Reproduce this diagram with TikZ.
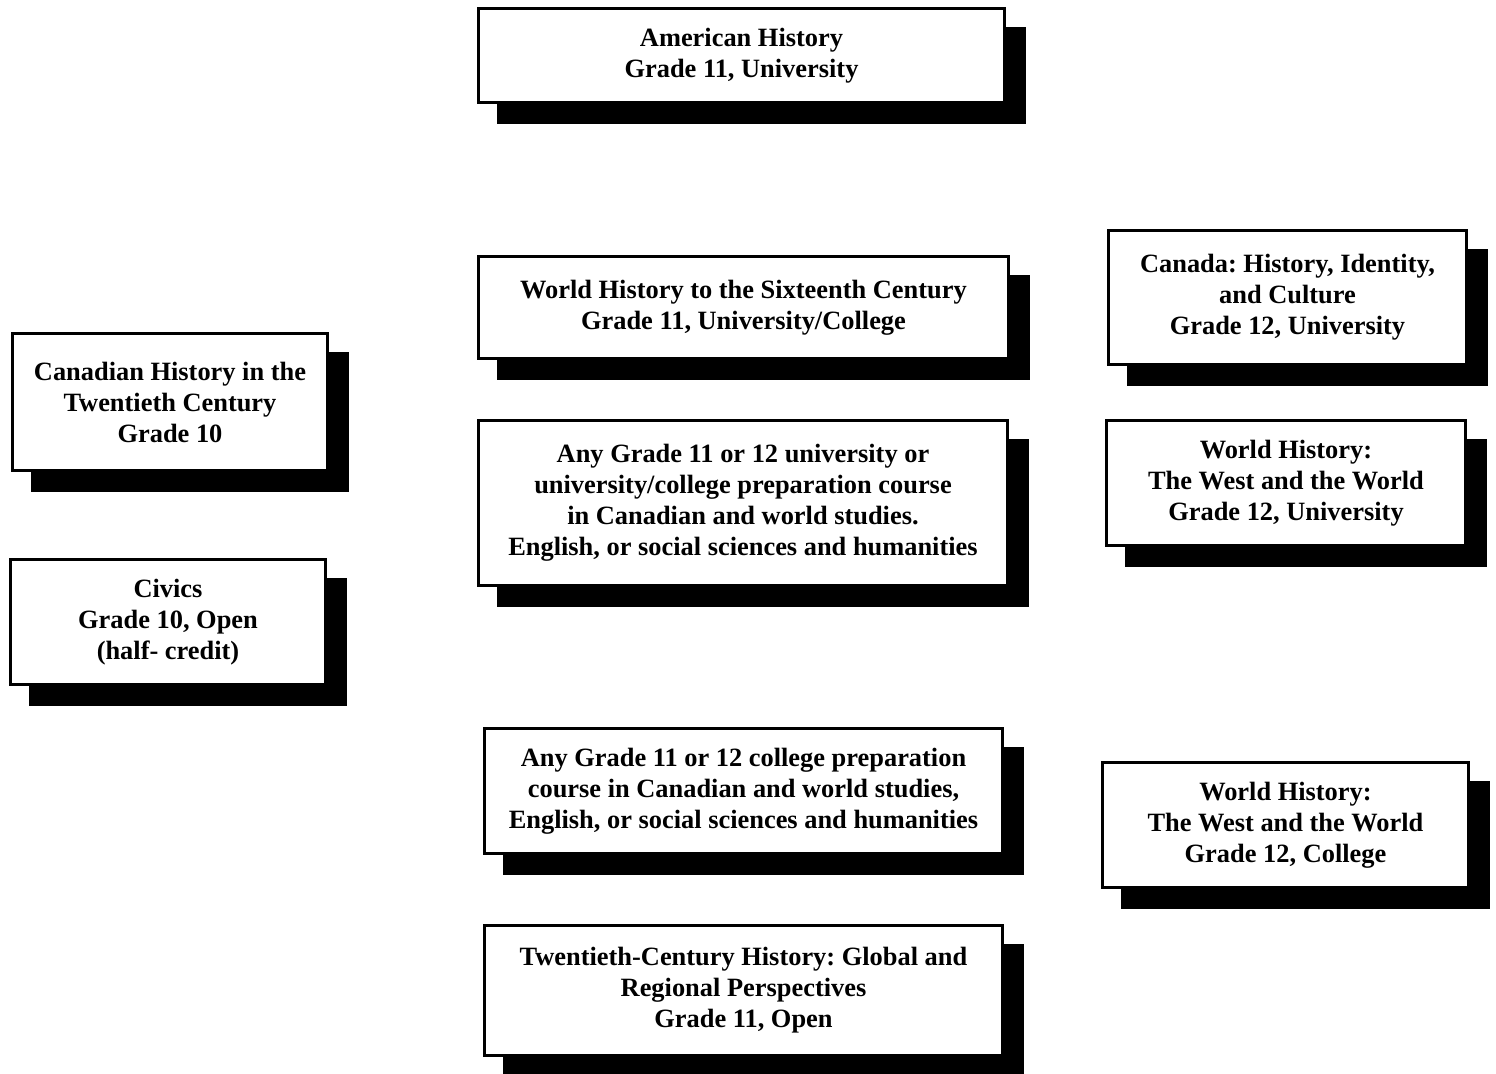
\documentclass[tikz,border=0pt]{standalone}
\usepackage{fontspec}
\setmainfont{Liberation Serif}
\usepackage{tikz}
\usetikzlibrary{positioning,shadows}
\frenchspacing

\begin{document}
\begin{tikzpicture}[x=0.5pt, y=-0.5pt,
    course/.style={draw, line width=1.5pt, fill=white, inner sep=0pt, align=center,
      font=\bfseries\fontsize{13.2}{15.5}\selectfont,
      general shadow={fill=black, draw=black, line width=1.5pt, shadow xshift=10pt, shadow yshift=-10pt}}]
      \useasboundingbox (0,0) rectangle (1496,1074);

      %% middle column
      \node (amer)[course, minimum width=263pt, minimum height=47pt] at (741.5, 55.5)
        {American History\\Grade 11, University};
      \node (wh16)[course, minimum width=265pt, minimum height=51pt] at (743.5, 307.5)
        {World History to the Sixteenth Century\\Grade 11, University/College};
      \node (anyuni)[course, minimum width=264.5pt, minimum height=82.5pt] at (743, 503)
        {Any Grade 11 or 12 university or\\university/college preparation course\\in Canadian and world studies.\\English, or social sciences and humanities};
      \node (anycol)[course, minimum width=259pt, minimum height=62.5pt] at (743.5, 791)
        {Any Grade 11 or 12 college preparation\\course in Canadian and world studies,\\English, or social sciences and humanities};
      \node (twent)[course, minimum width=259pt, minimum height=65pt] at (743.5, 990.5)
        {Twentieth-Century History: Global and\\Regional Perspectives\\Grade 11, Open};

      %% left column
      \node (canhist)[course, minimum width=157.5pt, minimum height=68.5pt] at (170, 402)
        {Canadian History in the\\Twentieth Century\\Grade 10};
      \node (civics)[course, minimum width=157.5pt, minimum height=62.5pt] at (168, 622)
        {Civics\\Grade 10, Open\\(half- credit)};

      %% right column
      \node (canada)[course, minimum width=179pt, minimum height=67pt] at (1287.5, 297.5)
        {Canada: History, Identity,\\and Culture\\Grade 12, University};
      \node (whuni)[course, minimum width=179.5pt, minimum height=62.5pt] at (1286, 483)
        {World History:\\The West and the World\\Grade 12, University};
      \node (whcol)[course, minimum width=183pt, minimum height=62.5pt] at (1285.5, 825)
        {World History:\\The West and the World\\Grade 12, College};

    \end{tikzpicture}
\end{document}
